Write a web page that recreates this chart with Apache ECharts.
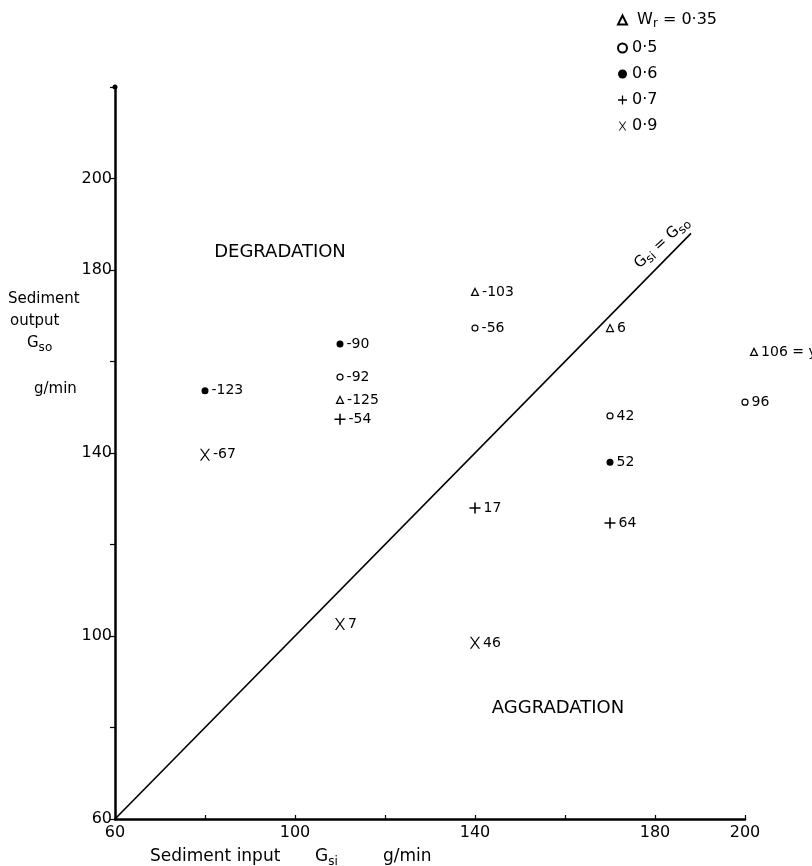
<!DOCTYPE html>
<html>
<head>
<meta charset="utf-8">
<script src="https://cdn.jsdelivr.net/npm/echarts@6/dist/echarts.min.js"></script>
<style>
  html, body { margin: 0; padding: 0; background: #fff; }
  #chart { width: 812px; height: 866px; }
</style>
</head>
<body>
<div id="chart"></div>
<script>
// ---- data ----
const triX = [140, 170, 110, 202];
const triY = [175.2, 167.3, 151.6, 162.1];
const triLab = ['-103', '6', '-125', '106 = ẏ'];

const openX = [140, 110, 170, 200];
const openY = [167.3, 156.6, 148.1, 151.1];
const openLab = ['-56', '-92', '42', '96'];

const fillX = [80, 110, 170];
const fillY = [153.6, 163.8, 138.0];
const fillLab = ['-123', '-90', '52'];

const plusX = [110, 140, 170];
const plusY = [147.4, 128.0, 124.7];
const plusLab = ['-54', '17', '64'];

const crossX = [80, 110, 140];
const crossY = [139.6, 102.6, 98.5];
const crossLab = ['-67', '7', '46'];

const lineX = [60, 188];
const lineY = [60, 188];

const seriesNames = ['0·35', '0·5', '0·6', '0·7', '0·9'];
const xTickLabels = [60, 100, 140, 180, 200];
const yTickLabels = [60, 100, 140, 180, 200];

// ---- helpers ----
const FONT = 'DejaVu Sans';
function pts(xs, ys, labs) {
  return xs.map((x, i) => [x, ys[i], labs[i]]);
}
const pointLabel = {
  show: true, position: 'right', distance: 3,
  formatter: p => p.data[2],
  color: '#000', fontFamily: FONT, fontSize: 14
};
const plusPath = 'path://M4.3,0h1.4v10h-1.4zM0,4.3h10v1.4h-10z';
const crossPath = 'path://M0,0L1.4,0L10,12L8.6,12zM8.6,0L10,0L1.4,12L0,12z';

const chart = echarts.init(document.getElementById('chart'), null, { renderer: 'canvas' });

const subRich = {
  a: { fontFamily: FONT, fontSize: 16, color: '#000', lineHeight: 20, verticalAlign: 'middle' },
  s: { fontFamily: FONT, fontSize: 12, color: '#000', lineHeight: 12, verticalAlign: 'bottom' }
};

const option = {
  backgroundColor: '#fff',
  animation: false,
  grid: { left: 115, right: 67, top: 87, bottom: 47, containLabel: false },
  legend: {
    orient: 'vertical', left: 612, top: 7,
    itemWidth: 9, itemHeight: 9, itemGap: 10,
    data: seriesNames,
    formatter: name => name === seriesNames[0] ? '{a| W}{s|r}{a| = ' + name + '}' : '{a|' + name + '}',
    textStyle: { fontFamily: FONT, fontSize: 16, color: '#000', rich: subRich }
  },
  xAxis: {
    type: 'value', min: 60, max: 200, interval: 20,
    axisLine: { show: true, onZero: false, lineStyle: { color: '#000', width: 2.5 } },
    axisTick: { show: true, inside: true, length: 4, lineStyle: { color: '#000', width: 1.2 } },
    splitLine: { show: false },
    axisLabel: {
      color: '#000', fontFamily: FONT, fontSize: 16, margin: 6,
      formatter: v => xTickLabels.includes(v) ? String(v) : ''
    }
  },
  yAxis: {
    type: 'value', min: 60, max: 220, interval: 20,
    axisLine: { show: true, onZero: false, symbol: ['none', 'circle'], symbolSize: [5, 5], lineStyle: { color: '#000', width: 2.5 } },
    axisTick: { show: true, length: 5, lineStyle: { color: '#000', width: 1.2 } },
    splitLine: { show: false },
    axisLabel: {
      color: '#000', fontFamily: FONT, fontSize: 16, margin: 3,
      formatter: v => yTickLabels.includes(v) ? String(v) : ''
    }
  },
  series: [
    {
      name: 'line', type: 'line', data: lineX.map((x, i) => [x, lineY[i]]),
      symbol: 'none', lineStyle: { color: '#000', width: 1.6 }, silent: true
    },
    {
      name: seriesNames[0], type: 'scatter', data: pts(triX, triY, triLab), clip: false,
      symbol: 'triangle', symbolSize: 7,
      itemStyle: { color: '#fff', borderColor: '#000', borderWidth: 1.2, opacity: 1 },
      label: pointLabel
    },
    {
      name: seriesNames[1], type: 'scatter', data: pts(openX, openY, openLab), clip: false,
      symbol: 'circle', symbolSize: 6,
      itemStyle: { color: '#fff', borderColor: '#000', borderWidth: 1.2, opacity: 1 },
      label: pointLabel
    },
    {
      name: seriesNames[2], type: 'scatter', data: pts(fillX, fillY, fillLab),
      symbol: 'circle', symbolSize: 7,
      itemStyle: { color: '#000', borderColor: '#000', borderWidth: 0, opacity: 1 },
      label: pointLabel
    },
    {
      name: seriesNames[3], type: 'scatter', data: pts(plusX, plusY, plusLab),
      symbol: plusPath, symbolSize: 11,
      itemStyle: { color: '#000', opacity: 1 },
      label: pointLabel
    },
    {
      name: seriesNames[4], type: 'scatter', data: pts(crossX, crossY, crossLab),
      symbol: crossPath, symbolSize: [10, 12],
      itemStyle: { color: '#000', opacity: 1 },
      label: pointLabel
    }
  ],
  graphic: [
    // y axis name
    { type: 'text', x: 8, y: 299, style: { text: 'Sediment', font: '15px "DejaVu Sans"', fill: '#000', verticalAlign: 'middle' } },
    { type: 'text', x: 10, y: 321, style: { text: 'output', font: '15px "DejaVu Sans"', fill: '#000', verticalAlign: 'middle' } },
    { type: 'text', x: 27, y: 343, style: { text: '{a|G}{s|so}', verticalAlign: 'middle', rich: {
      a: { fontFamily: FONT, fontSize: 15, fill: '#000', lineHeight: 22, verticalAlign: 'middle' },
      s: { fontFamily: FONT, fontSize: 12, fill: '#000', lineHeight: 12, verticalAlign: 'bottom' } } } },
    { type: 'text', x: 34, y: 389, style: { text: 'g/min', font: '15px "DejaVu Sans"', fill: '#000', verticalAlign: 'middle' } },
    // x axis name
    { type: 'text', x: 150, y: 857, style: { text: 'Sediment input', font: '17px "DejaVu Sans"', fill: '#000', verticalAlign: 'middle' } },
    { type: 'text', x: 315, y: 857, style: { text: '{a|G}{s|si}', verticalAlign: 'middle', rich: {
      a: { fontFamily: FONT, fontSize: 17, fill: '#000', lineHeight: 22, verticalAlign: 'middle' },
      s: { fontFamily: FONT, fontSize: 12, fill: '#000', lineHeight: 12, verticalAlign: 'bottom' } } } },
    { type: 'text', x: 383, y: 857, style: { text: 'g/min', font: '17px "DejaVu Sans"', fill: '#000', verticalAlign: 'middle' } },
    // region labels
    { type: 'text', x: 280, y: 252, style: { text: 'DEGRADATION', font: '18px "DejaVu Sans"', fill: '#000', align: 'center', verticalAlign: 'middle' } },
    { type: 'text', x: 558, y: 708, style: { text: 'AGGRADATION', font: '18px "DejaVu Sans"', fill: '#000', align: 'center', verticalAlign: 'middle' } },
    // line label
    { type: 'text', x: 662, y: 243, rotation: 42 * Math.PI / 180,
      style: { text: '{a|G}{s|si}{a| = G}{s|so}', align: 'center', verticalAlign: 'middle', rich: {
        a: { fontFamily: FONT, fontSize: 15, fill: '#000', lineHeight: 20, verticalAlign: 'middle' },
        s: { fontFamily: FONT, fontSize: 12, fill: '#000', lineHeight: 12, verticalAlign: 'bottom' } } } }
  ]
};
chart.setOption(option);
</script>
</body>
</html>
